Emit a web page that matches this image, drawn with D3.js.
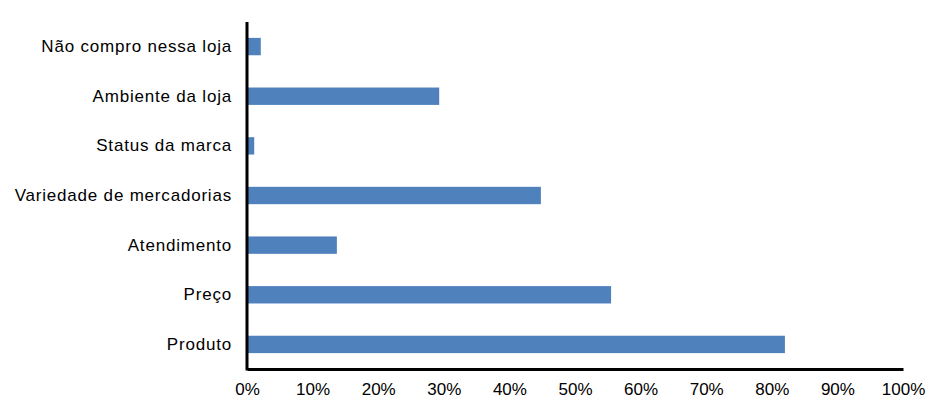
<!DOCTYPE html>
<html>
<head>
<meta charset="utf-8">
<script src="https://cdn.jsdelivr.net/npm/d3@7"></script>
<style>
  body { margin: 0; background: #fff; }
  svg text { font-family: "Liberation Sans", Arial, sans-serif; fill: #000; }
</style>
</head>
<body>
<div id="chart"></div>
<script>
// categories top to bottom
var categories = ["Não compro nessa loja", "Ambiente da loja", "Status da marca",
  "Variedade de mercadorias", "Atendimento", "Preço", "Produto"];
var values = [0.021, 0.293, 0.011, 0.448, 0.137, 0.555, 0.82];
var xTicks = [0, 0.1, 0.2, 0.3, 0.4, 0.5, 0.6, 0.7, 0.8, 0.9, 1];

var width = 941, height = 416;
var margin = {top: 22, right: 38, bottom: 47, left: 247};

var svg = d3.select("#chart").append("svg")
    .attr("width", width)
    .attr("height", height);

var x = d3.scaleLinear().domain([0, 1]).range([margin.left, width - margin.right]);
var y = d3.scaleBand().domain(categories)
    .range([margin.top, height - margin.bottom])
    .paddingInner(0.65).paddingOuter(0.32);

// bars
svg.selectAll(".bar")
    .data(categories)
  .enter().append("rect")
    .attr("class", "bar")
    .attr("x", x(0) + 1)
    .attr("y", function(d) { return y(d); })
    .attr("width", function(d, i) { return x(values[i]) - x(0) - 1; })
    .attr("height", y.bandwidth())
    .style("fill", "#4f81bd");

// x axis
var xAxis = svg.append("g")
    .attr("transform", "translate(0," + (height - margin.bottom) + ")")
    .call(d3.axisBottom(x).tickValues(xTicks).tickSize(0).tickPadding(14)
      .tickFormat(d3.format(".0%")));
xAxis.select(".domain").attr("stroke", "#000").attr("stroke-width", 3);
xAxis.selectAll("text").style("font-size", "17px");

// y axis
var yAxis = svg.append("g")
    .attr("transform", "translate(" + margin.left + ",0)")
    .call(d3.axisLeft(y).tickSize(0).tickPadding(15));
yAxis.select(".domain").attr("stroke", "#000").attr("stroke-width", 3)
    .attr("d", "M0," + margin.top + "V" + (height - margin.bottom + 1.5));
yAxis.selectAll("text").style("font-size", "17px").style("letter-spacing", "0.8px");
</script>
</body>
</html>
